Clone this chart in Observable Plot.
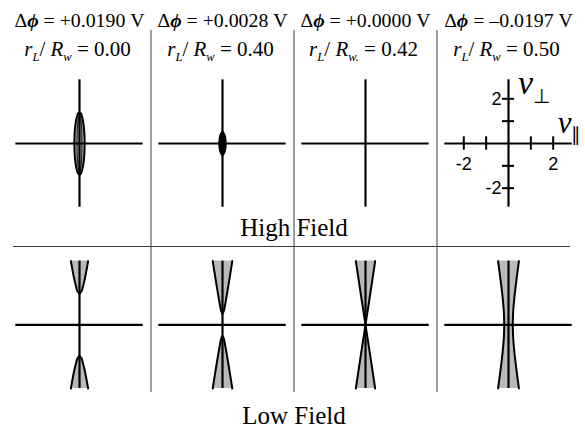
<!DOCTYPE html>
<html><head><meta charset="utf-8">
<script src="https://cdn.jsdelivr.net/npm/d3@7"></script>
<script src="https://cdn.jsdelivr.net/npm/@observablehq/plot@0.6"></script>
<style>
html,body{margin:0;padding:0;background:#fff;}
#chart svg{display:block;}
</style>
</head><body><div id="chart"></div>
<script>
// ---- data ----
const columns = [0, 1, 2, 3];
const fields = ["High Field", "Low Field"];
const deltaPhi = ["+0.0190", "+0.0028", "+0.0000", "–0.0197"];
const radiusRatio = ["0.00", "0.40", "0.42", "0.50"];
const radiusSubscript = ["w", "w", "w.", "w"];

// High field: trapped-region boundary, pairs [v⊥, half-width in v∥] for v⊥ ≥ 0 (mirrored below)
const highBoundary = [
  [[0, 0.23], [0.4, 0.22], [0.7, 0.2], [0.9, 0.175], [1.1, 0.14], [1.25, 0.1], [1.35, 0.06], [1.4, 0]],
  [[0, 0.14], [0.2, 0.13], [0.35, 0.1], [0.45, 0.06], [0.52, 0]],
  [],
  []
];
const highInner = [
  [[0, 0.11], [0.6, 0.1], [1.0, 0.07], [1.3, 0]],
  [],
  [],
  []
];
// Low field: loss-cone boundary, pairs [v⊥, half-width in v∥] for v⊥ ≥ 0 (mirrored below)
const lowBoundary = [
  [[1.39, 0], [1.5, 0.09], [1.7, 0.15], [2.0, 0.225], [2.4, 0.305], [2.85, 0.385]],
  [[0.5, 0], [0.6, 0.052], [0.8, 0.098], [1.2, 0.17], [1.8, 0.27], [2.4, 0.367], [2.85, 0.438]],
  [[0, 0], [1.4, 0.215], [2.85, 0.433]],
  [[0, 0.19], [0.6, 0.21], [1.2, 0.261], [1.8, 0.33], [2.4, 0.406], [2.85, 0.467]]
];
const axisExtent = 2.85;
const tickValues = [-2, -1, 1, 2];
const tickLabelValues = [-2, 2];

// ---- build tables ----
function mirrored(boundaries, field) {
  const out = [];
  boundaries.forEach((pts, col) => {
    for (const sign of [1, -1]) {
      const part = pts.map(([v, w]) => ({col, field, part: `${field}|${col}|${sign}`, v: sign * v, w}));
      part.sort((a, b) => a.v - b.v);
      out.push(...part);
    }
  });
  return out;
}
const shapes = [...mirrored(highBoundary, fields[0]), ...mirrored(lowBoundary, fields[1])];
const smallLens = shapes.filter(d => d.field === fields[0] && d.col === 1);
const inner = mirrored(highInner, fields[0]);
const panels = fields.flatMap(field => columns.map(col => ({col, field})));
const headers = columns.map(col => ({
  col, field: fields[0],
  phi: `Δ~ϕ~ = ${deltaPhi[col]} V`,
  ratio: `*r*_{L}/ *R*_{${radiusSubscript[col]}} = ${radiusRatio[col]}`
}));
const keyTicks = tickValues.map(t => ({col: 3, field: fields[0], t}));
const keyLabels = tickLabelValues.map(t => ({col: 3, field: fields[0], t, label: String(t)}));
const rowLabels = fields.map(field => ({col: 1, field}));
const keyPanel = [{col: 3, field: fields[0]}];

const serif = "'Liberation Serif', 'Times New Roman', serif";
const sans = "'Liberation Sans', Arial, sans-serif";
const fxy = {fx: "col", fy: "field"};
const sepStyle = {stroke: "#3a3a3a", strokeWidth: 1};

const svg = Plot.plot({
  width: 585, height: 428,
  marginLeft: 7.5, marginRight: 5.5, marginTop: 71.5, marginBottom: 32.2,
  fx: {domain: columns, paddingInner: 0, paddingOuter: 0, axis: null, round: false},
  fy: {domain: fields, paddingInner: 0.2113, paddingOuter: 0, axis: null, round: false},
  x: {domain: [-3.2, 3.2], axis: null},
  y: {domain: [-3.2, 3.2], axis: null},
  marks: [
    // panel separators
    Plot.ruleX(panels.filter(d => d.col < 3 && d.field === fields[0]), {...fxy, x: 3.2, y1: 5.06, y2: -4.61, ...sepStyle}),
    Plot.ruleX(panels.filter(d => d.col < 3 && d.field === fields[1]), {...fxy, x: 3.2, y1: 3.5, y2: -3.03, ...sepStyle}),
    Plot.ruleY(panels.filter(d => d.field === fields[0]), {...fxy, y: -4.61, x1: d => d.col === 0 ? -2.95 : -3.2, x2: d => d.col === 3 ? 2.78 : 3.2, ...sepStyle}),
    // shaded regions
    Plot.areaX(shapes, {...fxy, y: "v", x1: d => -d.w, x2: "w", z: "part", fill: "#b9b9b9", curve: "monotone-y"}),
    Plot.areaX(smallLens, {...fxy, y: "v", x1: d => -d.w, x2: "w", z: "part", fill: "#111", curve: "monotone-y"}),
    Plot.line(inner, {...fxy, x: "w", y: "v", z: "part", stroke: "#222", strokeWidth: 1.2, curve: "monotone-y"}),
    Plot.line(inner, {...fxy, x: d => -d.w, y: "v", z: "part", stroke: "#222", strokeWidth: 1.2, curve: "monotone-y"}),
    // axes of each panel
    Plot.ruleY(panels, {...fxy, y: 0, x1: -axisExtent, x2: axisExtent, stroke: "#000", strokeWidth: 2.2}),
    Plot.ruleX(panels, {...fxy, x: 0, y1: -axisExtent, y2: axisExtent, stroke: "#000", strokeWidth: 2.2}),
    // boundaries
    Plot.line(shapes, {...fxy, x: "w", y: "v", z: "part", stroke: "#000", strokeWidth: 2, curve: "monotone-y"}),
    Plot.line(shapes, {...fxy, x: d => -d.w, y: "v", z: "part", stroke: "#000", strokeWidth: 2, curve: "monotone-y"}),
    // key ticks
    Plot.ruleX(keyTicks, {...fxy, x: "t", y1: -0.3, y2: 0.3, stroke: "#000", strokeWidth: 2}),
    Plot.ruleY(keyTicks, {...fxy, y: "t", x1: -0.27, x2: 0.27, stroke: "#000", strokeWidth: 2}),
    Plot.text(keyLabels, {...fxy, x: "t", y: 0, text: "label", dy: 21, fontSize: 18, fontFamily: sans}),
    Plot.text(keyLabels, {...fxy, x: 0, y: "t", text: "label", dx: -7, textAnchor: "end", fontSize: 18, fontFamily: sans}),
    Plot.text(keyPanel, {...fxy, x: 0.42, y: 2.2, text: () => "*v*_[⊥]", textAnchor: "start", lineAnchor: "bottom", fontSize: 34, fontFamily: serif}),
    Plot.text(keyPanel, {...fxy, x: 2.2, y: 0.45, text: () => "*v*_[∥]", textAnchor: "start", lineAnchor: "bottom", fontSize: 31, fontFamily: serif}),
    // headers
    Plot.text(headers, {...fxy, text: "phi", frameAnchor: "top", lineAnchor: "bottom", dy: -45.5, fontSize: 19.8, fontFamily: serif}),
    Plot.text(headers, {...fxy, text: "ratio", frameAnchor: "top", lineAnchor: "bottom", dy: -16.5, dx: -2, fontSize: 21, fontFamily: serif}),
    // row labels
    Plot.text(rowLabels.filter(d => d.field === fields[0]), {...fxy, text: "field", frameAnchor: "bottom-right", textAnchor: "middle", lineAnchor: "bottom", dy: 21.5, fontSize: 25, fontFamily: serif}),
    Plot.text(rowLabels.filter(d => d.field === fields[1]), {...fxy, text: "field", frameAnchor: "bottom-right", textAnchor: "middle", lineAnchor: "bottom", dy: 27.2, fontSize: 25, fontFamily: serif})
  ]
});

document.getElementById("chart").append(svg);

// rich text: *x* italic, ~x~ bold italic, _{x} italic subscript, _[x] upright subscript
function richify(el) {
  const src = el.textContent;
  if (!/[*~_]/.test(src)) return;
  const size = parseFloat(getComputedStyle(el).fontSize);
  while (el.firstChild) el.removeChild(el.firstChild);
  const re = /\*([^*]+)\*|~([^~]+)~|_\{([^}]*)\}|_\[([^\]]*)\]|([^*~_]+)/g;
  const down = size * 0.24;
  let m, shift = 0;
  while ((m = re.exec(src))) {
    const t = document.createElementNS("http://www.w3.org/2000/svg", "tspan");
    let dy;
    if (m[3] !== undefined || m[4] !== undefined) {
      t.textContent = m[3] !== undefined ? m[3] : m[4];
      t.setAttribute("font-size", (size * 0.6).toFixed(1));
      if (m[3] !== undefined) t.setAttribute("font-style", "italic");
      dy = down - shift; shift = down;
    } else {
      t.textContent = m[1] !== undefined ? m[1] : m[2] !== undefined ? m[2] : m[5];
      if (m[1] !== undefined) t.setAttribute("font-style", "italic");
      if (m[2] !== undefined) { t.setAttribute("font-style", "italic"); t.setAttribute("font-weight", "bold"); }
      dy = -shift; shift = 0;
    }
    if (dy) t.setAttribute("dy", dy.toFixed(2));
    el.appendChild(t);
  }
}
svg.querySelectorAll("text").forEach(richify);
</script></body></html>
